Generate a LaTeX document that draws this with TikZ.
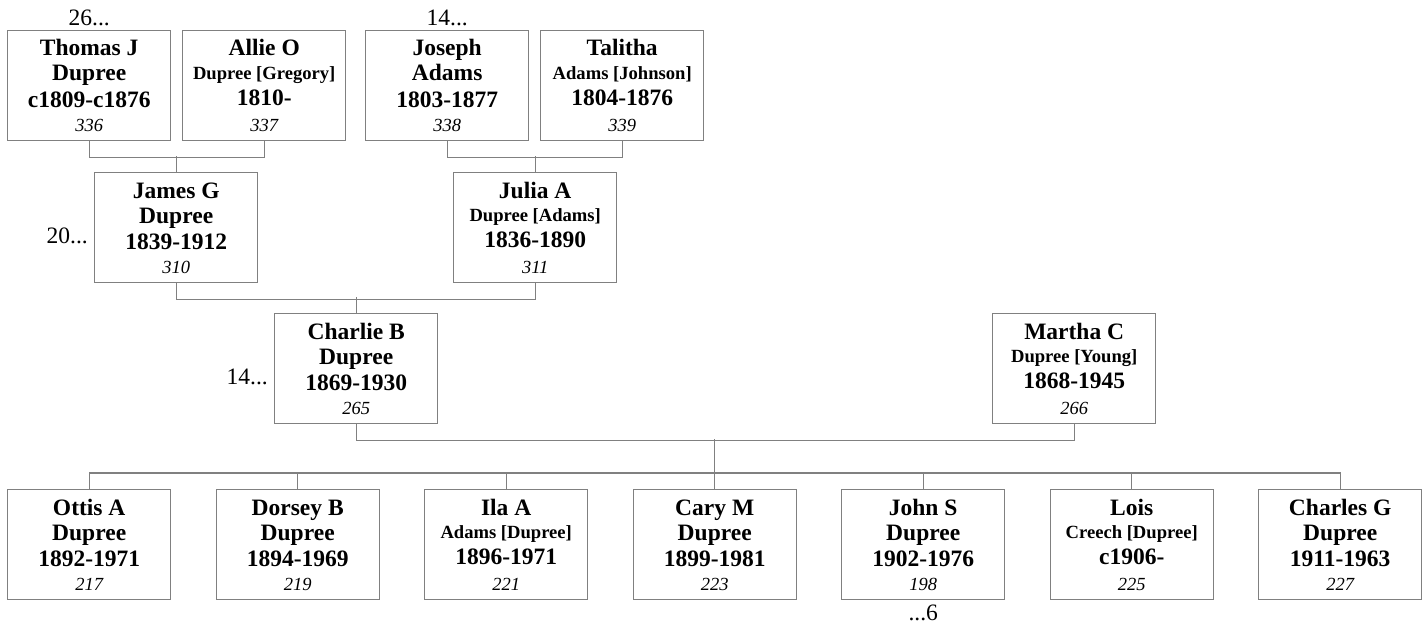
\documentclass[tikz,border=0pt]{standalone}
\usepackage{fontspec}
\setmainfont{Liberation Serif}
\definecolor{boxgray}{RGB}{128,128,128}
\tikzset{
  pbox/.style={draw=boxgray, line width=1.4pt, minimum width=163pt, minimum height=110pt, inner sep=0pt, anchor=north west},
  conn/.style={draw=boxgray, line width=1.4pt},
  bigt/.style={font=\bfseries\fontsize{23.5}{23.5}\selectfont, anchor=base, inner sep=0pt},
  smallt/.style={font=\bfseries\fontsize{18.6}{19}\selectfont, anchor=base, inner sep=0pt},
  numt/.style={font=\itshape\fontsize{18.5}{18.5}\selectfont, anchor=base, inner sep=0pt},
  lbl/.style={font=\fontsize{23.5}{23.5}\selectfont, inner sep=0pt},
}
\newcommand{\personA}[7]{%
  \node[pbox] (#1) at (#2,#3) {};
  \node[bigt] (#1-a) at ([yshift=-26pt]#1.north) {#4};
  \node[bigt] (#1-b) at ([yshift=-51pt]#1.north) {#5};
  \node[bigt] (#1-c) at ([yshift=-77pt]#1.north) {#6};
  \node[numt] (#1-d) at ([yshift=-101pt]#1.north) {#7};
}
\newcommand{\personB}[7]{%
  \node[pbox] (#1) at (#2,#3) {};
  \node[bigt] (#1-a) at ([yshift=-26pt]#1.north) {#4};
  \node[smallt] (#1-b) at ([yshift=-49pt]#1.north) {#5};
  \node[bigt] (#1-c) at ([yshift=-75pt]#1.north) {#6};
  \node[numt] (#1-d) at ([yshift=-101pt]#1.north) {#7};
}
\begin{document}
\begin{tikzpicture}[x=1pt,y=-1pt]
\useasboundingbox (0,0) rectangle (1424,626);
% generation 1
\personA{thomas}{7}{30}{Thomas J}{Dupree}{c1809-c1876}{336}
\personB{allie}{182}{30}{Allie O}{Dupree [Gregory]}{1810-}{337}
\personA{joseph}{365}{30}{Joseph}{Adams}{1803-1877}{338}
\personB{talitha}{540}{30}{Talitha}{Adams [Johnson]}{1804-1876}{339}
% generation 2
\personA{james}{94}{172}{James G}{Dupree}{1839-1912}{310}
\personB{julia}{453}{172}{Julia A}{Dupree [Adams]}{1836-1890}{311}
% generation 3
\personA{charlie}{274}{313}{Charlie B}{Dupree}{1869-1930}{265}
\personB{martha}{992}{313}{Martha C}{Dupree [Young]}{1868-1945}{266}
% children
\personA{ottis}{7}{489}{Ottis A}{Dupree}{1892-1971}{217}
\personA{dorsey}{215.5}{489}{Dorsey B}{Dupree}{1894-1969}{219}
\personB{ila}{424}{489}{Ila A}{Adams [Dupree]}{1896-1971}{221}
\personA{cary}{632.5}{489}{Cary M}{Dupree}{1899-1981}{223}
\personA{john}{841}{489}{John S}{Dupree}{1902-1976}{198}
\personB{lois}{1049.5}{489}{Lois}{Creech [Dupree]}{c1906-}{225}
\personA{charles}{1258}{489}{Charles G}{Dupree}{1911-1963}{227}
% outer labels
\node[lbl, anchor=base] (l26) at ([yshift=4pt]thomas.north) {26...};
\node[lbl, anchor=base] (l14a) at ([yshift=4pt]joseph.north) {14...};
\node[lbl, anchor=base east] (l20) at ([xshift=-6pt,yshift=-16pt]james.west) {20...};
\node[lbl, anchor=base east] (l14b) at ([xshift=-6pt,yshift=-16pt]charlie.west) {14...};
\node[lbl, anchor=base] (l6) at ([yshift=-20pt]john.south) {...6};
% connectors
\draw[conn] (thomas.south) -- ++(0,16) -| (allie.south);
\draw[conn] (james.north) -- ++(0,-16);
\draw[conn] (joseph.south) -- ++(0,16) -| (talitha.south);
\draw[conn] (julia.north) -- ++(0,-16);
\draw[conn] (james.south) -- ++(0,16) -| (julia.south);
\draw[conn] (charlie.north) -- ++(0,-16);
\draw[conn] (charlie.south) -- ++(0,16) -| (martha.south);
\coordinate (fam) at ([yshift=50pt]cary.north);
\draw[conn] (fam) -- ++(0,34);
\draw[conn] (ottis.north) -- ++(0,-16) -| (charles.north);
\foreach \c in {dorsey,ila,cary,john,lois}{
  \draw[conn] (\c.north) -- ++(0,-16);
}
\end{tikzpicture}
\end{document}
